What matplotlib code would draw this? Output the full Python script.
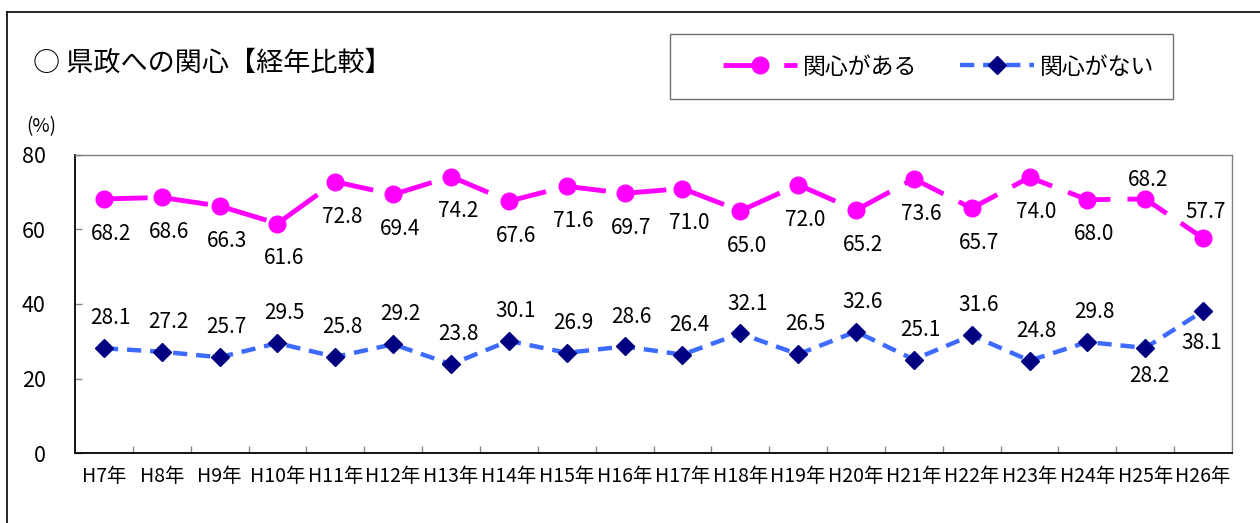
import matplotlib
matplotlib.use("Agg")
import matplotlib.pyplot as plt
from matplotlib.lines import Line2D
from matplotlib.patches import Rectangle
import numpy as np

plt.rcParams['font.family'] = ['Noto Sans CJK JP', 'DejaVu Sans']

years = ["H7年", "H8年", "H9年", "H10年", "H11年", "H12年", "H13年", "H14年", "H15年", "H16年",
         "H17年", "H18年", "H19年", "H20年", "H21年", "H22年", "H23年", "H24年", "H25年", "H26年"]
interested = [68.2, 68.6, 66.3, 61.6, 72.8, 69.4, 74.2, 67.6, 71.6, 69.7,
              71.0, 65.0, 72.0, 65.2, 73.6, 65.7, 74.0, 68.0, 68.2, 57.7]
not_interested = [28.1, 27.2, 25.7, 29.5, 25.8, 29.2, 23.8, 30.1, 26.9, 28.6,
                  26.4, 32.1, 26.5, 32.6, 25.1, 31.6, 24.8, 29.8, 28.2, 38.1]
label_names = ["関心がある", "関心がない"]
title = "○ 県政への関心【経年比較】"

W, H = 1260, 523
fig = plt.figure(figsize=(W / 100, H / 100), dpi=100)
fig.patch.set_facecolor("white")

def fx(px):
    return px / W

def fy(py):
    return 1 - py / H

ax_l, ax_r, ax_t, ax_b = 75, 1232, 155, 453
ax = fig.add_axes([fx(ax_l), fy(ax_b), fx(ax_r - ax_l), (ax_b - ax_t) / H])

x = np.arange(len(years))
magenta = "#FF00FF"
blue = "#3D6BFF"
navy = "#000080"

l1, = ax.plot(x, interested, color=magenta, lw=3.5, marker="o", ms=12, mfc=magenta, mec=magenta,
              dashes=(9, 3.5), dash_capstyle="butt", zorder=3)
l2, = ax.plot(x, not_interested, color=blue, lw=3.2, marker="D", ms=9, mfc=navy, mec=navy,
              dashes=(3.2, 2.0), dash_capstyle="butt", zorder=3)

n = len(years)
for i in range(n):
    if i >= n - 2:
        dy1 = -14 if i == n - 2 else -19
        dx1 = 2
    else:
        dy1 = 25
        dx1 = 5
    ax.annotate(f"{interested[i]:.1f}", (x[i], interested[i]), xytext=(dx1, -dy1),
                textcoords="offset points", ha="center", va="center", fontsize=15, zorder=4)
    if i >= n - 2:
        dy2 = 20 if i == n - 2 else 23
        dx2 = 3 if i == n - 2 else -1
    else:
        dy2 = -21.5
        dx2 = 5
    ax.annotate(f"{not_interested[i]:.1f}", (x[i], not_interested[i]), xytext=(dx2, -dy2),
                textcoords="offset points", ha="center", va="center", fontsize=15, zorder=4)

ax.set_xlim(-0.5, n - 0.5)
ax.set_ylim(0, 80)
ax.set_yticks([0, 20, 40, 60, 80])
ax.set_xticks(x)
ax.set_xticklabels(years)
ax.set_xticks(np.arange(0.5, n - 1, 1.0), minor=True)
ax.tick_params(axis="x", which="major", length=0, pad=9, labelsize=14)
ax.tick_params(axis="x", which="minor", direction="in", length=5, color="#888888", width=1)
ax.tick_params(axis="y", direction="in", length=5, color="#888888", width=1, pad=21, labelsize=15.5)

for side in ["left", "bottom"]:
    ax.spines[side].set_color("black")
    ax.spines[side].set_linewidth(1.3)
for side in ["top", "right"]:
    ax.spines[side].set_color("#808080")
    ax.spines[side].set_linewidth(1.0)

fig.text(fx(41), fy(127), "(%)", ha="center", va="center", fontsize=13.5)

fig.text(fx(33), fy(63), title, ha="left", va="center", fontsize=19.5)

fig.add_artist(Line2D([fx(7), fx(7)], [fy(12), 0], color="black", lw=1.2, transform=fig.transFigure))
fig.add_artist(Line2D([fx(7), 1], [fy(12), fy(12)], color="black", lw=1.2, transform=fig.transFigure))

fig.add_artist(Rectangle((fx(670), fy(99)), fx(1173 - 670), (99 - 34) / H, fill=False,
                         edgecolor="#707070", lw=1.0, transform=fig.transFigure))
leg = fig.legend([l1, l2], label_names, loc="center left", bbox_to_anchor=(fx(712), fy(67)),
                 ncol=2, frameon=False, fontsize=16.5, handlelength=3.2, handletextpad=0.25,
                 columnspacing=1.9, borderpad=0, numpoints=1, markerscale=1.0)

fig.savefig("out.png", dpi=100, facecolor="white")
